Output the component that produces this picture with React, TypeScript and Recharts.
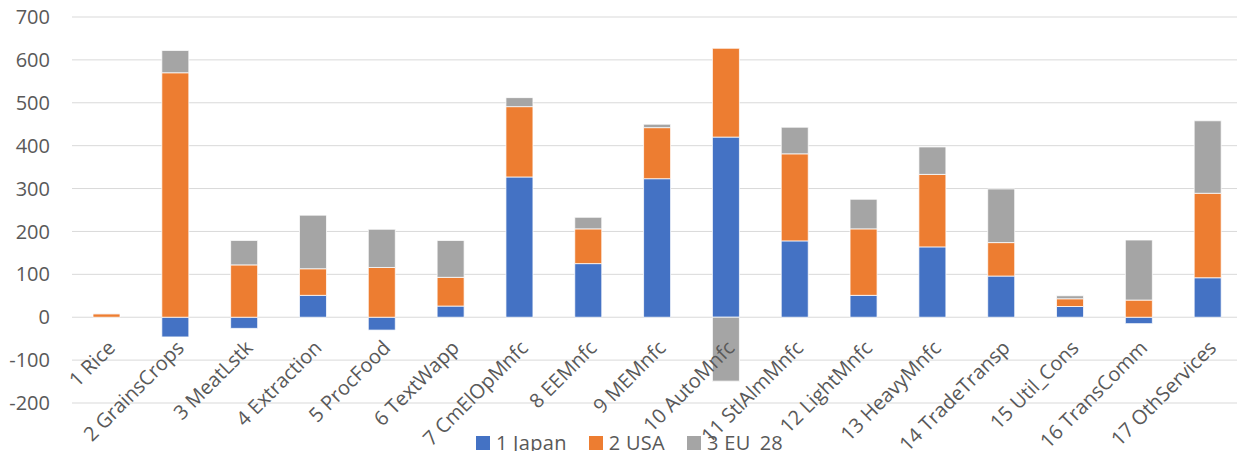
import React from "react"
import { Bar, BarChart, CartesianGrid, Legend, XAxis, YAxis } from "recharts"

const sectors = [
  "1 Rice",
  "2 GrainsCrops",
  "3 MeatLstk",
  "4 Extraction",
  "5 ProcFood",
  "6 TextWapp",
  "7 CmElOpMnfc",
  "8 EEMnfc",
  "9 MEMnfc",
  "10 AutoMnfc",
  "11 StlAlmMnfc",
  "12 LightMnfc",
  "13 HeavyMnfc",
  "14 TradeTransp",
  "15 Util_Cons",
  "16 TransComm",
  "17 OthServices",
]

const japan = [0, -46, -26, 51, -30, 26, 327, 125, 323, 420, 178, 51, 164, 96, 25, -15, 92]
const usa = [8, 570, 122, 62, 116, 67, 164, 81, 119, 207, 203, 155, 169, 78, 18, 40, 197]
const eu28 = [1, 52, 57, 125, 89, 86, 21, 27, 8, -149, 62, 69, 64, 125, 7, 140, 169]

const yTicks = [-200, -100, 0, 100, 200, 300, 400, 500, 600, 700]

const data = sectors.map((name, i) => ({
  name,
  japan: japan[i],
  usa: usa[i],
  eu28: eu28[i],
}))

const W = 1245
const H = 459
const TOP = 17
const XAXIS_H = 56
const FONT = "'Open Sans', sans-serif"
const FS = 20
const TEXT = "#595959"

const yMin = yTicks[0]
const yMax = yTicks[yTicks.length - 1]
const plotBottom = H - XAXIS_H
// category axis crosses at 0, like the Excel original
const zeroY = TOP + ((plotBottom - TOP) * (yMax - 0)) / (yMax - yMin)

function SectorTick(props: any) {
  const { x, payload } = props
  return (
    <g transform={`translate(${x + 5},${zeroY + 27})`}>
      <text
        x={0}
        y={0}
        dy="0.35em"
        textAnchor="end"
        transform="rotate(-45)"
        fill={TEXT}
        fontSize={FS}
        fontFamily={FONT}
      >
        {payload.value}
      </text>
    </g>
  )
}

function LegendBox(props: any) {
  const items = props.payload || []
  return (
    <div
      style={{
        display: "flex",
        justifyContent: "center",
        gap: 22,
        paddingLeft: 14,
        fontFamily: FONT,
        fontSize: FS,
        color: TEXT,
        lineHeight: "24px",
        letterSpacing: 0.3,
      }}
    >
      {items.map((it: any) => (
        <div key={it.value} style={{ display: "flex", alignItems: "center" }}>
          <span style={{ width: 14, height: 14, background: it.color, display: "inline-block", marginRight: 6 }} />
          <span>{it.value}</span>
        </div>
      ))}
    </div>
  )
}

export default function App() {
  return (
    <div style={{ margin: -8, position: "relative", width: W, height: H, overflow: "hidden", background: "#fff" }}>
      <div
        style={{
          position: "absolute",
          left: 2,
          top: 2,
          width: 1240,
          height: 470,
          border: "1px solid #d9d9d9",
        }}
      />
      <BarChart
        width={W}
        height={H}
        data={data}
        stackOffset="sign"
        margin={{ top: TOP, right: 3, left: 0, bottom: 0 }}
      >
        <CartesianGrid vertical={false} stroke="#d9d9d9" strokeWidth={1} />
        <XAxis
          dataKey="name"
          height={XAXIS_H}
          axisLine={false}
          tickLine={false}
          interval={0}
          tick={<SectorTick />}
        />
        <YAxis
          width={72}
          domain={[yMin, yMax]}
          ticks={yTicks}
          interval={0}
          axisLine={false}
          tickLine={false}
          tickSize={0}
          tickMargin={22}
          tick={{ fill: TEXT, fontSize: FS, fontFamily: FONT }}
        />
        <Legend
          layout="horizontal"
          verticalAlign="middle"
          align="center"
          content={<LegendBox />}
          wrapperStyle={{ position: "absolute", top: 431, left: 0, width: W }}
        />
        <Bar dataKey="japan" name="1 Japan" stackId="a" fill="#4472C4" stroke="#ffffff" strokeWidth={0.75} barSize={27} isAnimationActive={false} />
        <Bar dataKey="usa" name="2 USA" stackId="a" fill="#ED7D31" stroke="#ffffff" strokeWidth={0.75} barSize={27} isAnimationActive={false} />
        <Bar dataKey="eu28" name="3 EU_28" stackId="a" fill="#A5A5A5" stroke="#ffffff" strokeWidth={0.75} barSize={27} isAnimationActive={false} />
      </BarChart>
    </div>
  )
}
